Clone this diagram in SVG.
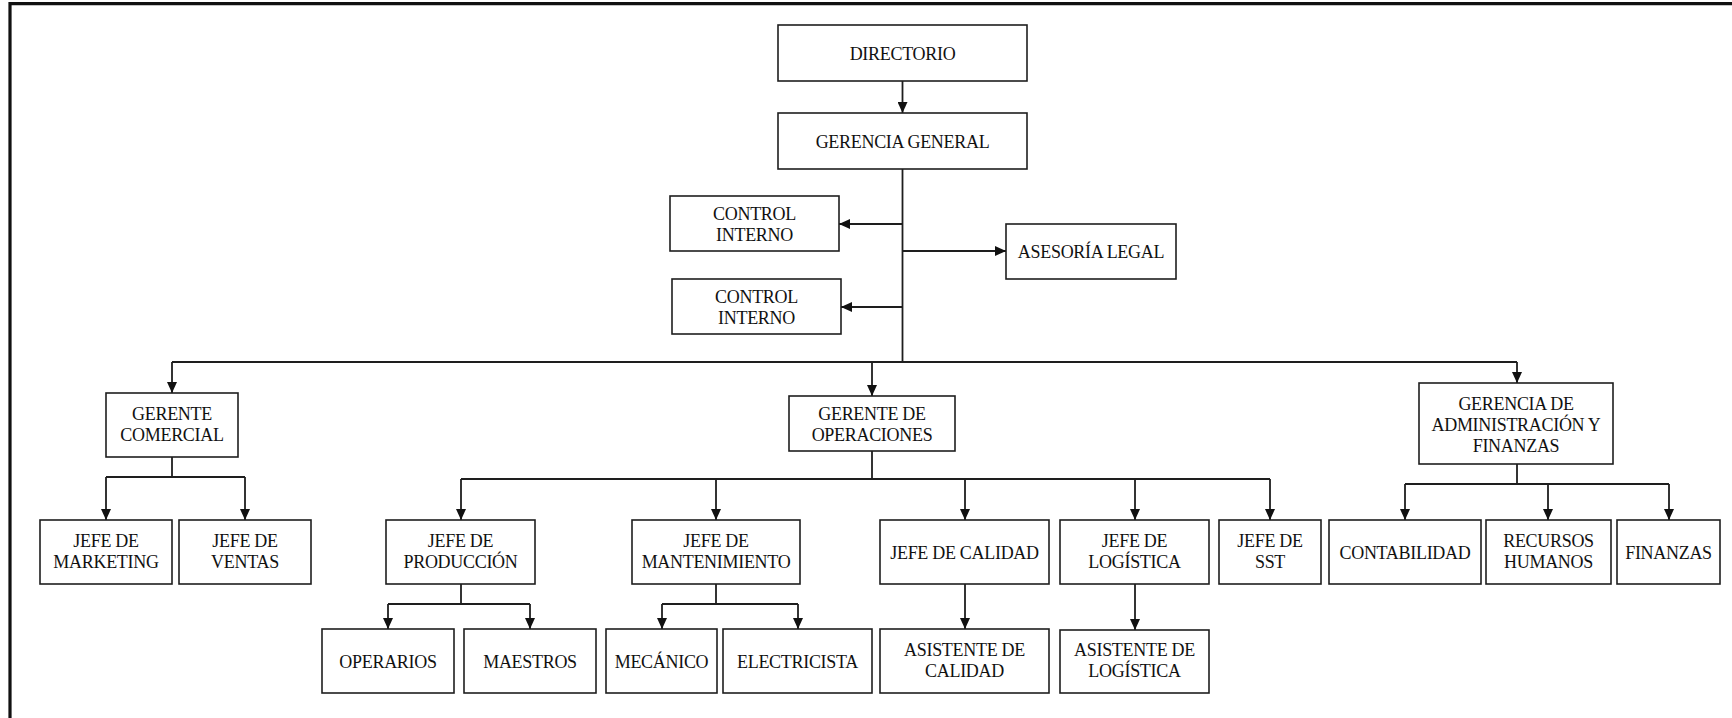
<svg xmlns="http://www.w3.org/2000/svg" width="1732" height="718" viewBox="0 0 1732 718">
  <style>
    .box rect { fill: #ffffff; stroke: #1e1e1e; stroke-width: 1.6; }
    .box text { font-family: "Liberation Serif", "Times New Roman", serif; font-size: 18px; letter-spacing: -0.3px; fill: #111111; text-anchor: middle; }
    .conn path { fill: none; stroke: #1e1e1e; stroke-width: 1.8; }
    .conn path.arrow { marker-end: url(#arrowhead); }
    .frame { fill: none; stroke: #111111; stroke-width: 3.2; }
  </style>
  <defs>
    <marker id="arrowhead" viewBox="0 0 11 10" refX="11" refY="5" markerWidth="11" markerHeight="10" markerUnits="userSpaceOnUse" orient="auto">
      <path d="M0,0 L11,5 L0,10 z" fill="#111111"/>
    </marker>
  </defs>

  <rect width="1732" height="718" fill="#ffffff"/>
  <!-- page frame (left and top edges) -->
  <path class="frame" d="M10,718 V3.6 H1732"/>

  <!-- connectors -->
  <g id="connectors" class="conn">
    <path class="arrow" d="M902.5,81 V113"/>
    <path d="M902.5,169 V362"/>
    <path class="arrow" d="M902.5,224 H839"/>
    <path class="arrow" d="M902.5,251 H1006"/>
    <path class="arrow" d="M902.5,307 H841"/>
    <path d="M172,362 H1517"/>
    <path class="arrow" d="M172,362 V393"/>
    <path class="arrow" d="M872,362 V396"/>
    <path class="arrow" d="M1517,362 V383"/>
    <!-- comercial -->
    <path d="M172,457 V477"/>
    <path d="M106,477 H245"/>
    <path class="arrow" d="M106,477 V520"/>
    <path class="arrow" d="M245,477 V520"/>
    <!-- operaciones -->
    <path d="M872,451 V479"/>
    <path d="M461,479 H1270"/>
    <path class="arrow" d="M461,479 V520"/>
    <path class="arrow" d="M716,479 V520"/>
    <path class="arrow" d="M965,479 V520"/>
    <path class="arrow" d="M1135,479 V520"/>
    <path class="arrow" d="M1270,479 V520"/>
    <!-- produccion -->
    <path d="M461,584 V604"/>
    <path d="M388,604 H530"/>
    <path class="arrow" d="M388,604 V629"/>
    <path class="arrow" d="M530,604 V629"/>
    <!-- mantenimiento -->
    <path d="M716,584 V604"/>
    <path d="M662,604 H798"/>
    <path class="arrow" d="M662,604 V629"/>
    <path class="arrow" d="M798,604 V629"/>
    <!-- calidad / logistica -->
    <path class="arrow" d="M965,584 V629"/>
    <path class="arrow" d="M1135,584 V630"/>
    <!-- administracion y finanzas -->
    <path d="M1517,464 V484"/>
    <path d="M1405,484 H1669"/>
    <path class="arrow" d="M1405,484 V520"/>
    <path class="arrow" d="M1548,484 V520"/>
    <path class="arrow" d="M1669,484 V520"/>
  </g>

  <!-- nodes -->
  <g id="directorio" class="box">
    <rect x="778" y="25" width="249" height="56"/>
    <text x="902.5" y="59.5">DIRECTORIO</text>
  </g>
  <g id="gerencia-general" class="box">
    <rect x="778" y="113" width="249" height="56"/>
    <text x="902.5" y="147.5">GERENCIA GENERAL</text>
  </g>
  <g id="control-interno-1" class="box">
    <rect x="670" y="196" width="169" height="55"/>
    <text x="754.5" y="219.5">CONTROL</text>
    <text x="754.5" y="240.5">INTERNO</text>
  </g>
  <g id="asesoria-legal" class="box">
    <rect x="1006" y="224" width="170" height="55"/>
    <text x="1091" y="258">ASESORÍA LEGAL</text>
  </g>
  <g id="control-interno-2" class="box">
    <rect x="672" y="279" width="169" height="55"/>
    <text x="756.5" y="302.5">CONTROL</text>
    <text x="756.5" y="323.5">INTERNO</text>
  </g>

  <g id="gerente-comercial" class="box">
    <rect x="106" y="393" width="132" height="64"/>
    <text x="172" y="419.5">GERENTE</text>
    <text x="172" y="440.5">COMERCIAL</text>
  </g>
  <g id="jefe-marketing" class="box">
    <rect x="40" y="520" width="132" height="64"/>
    <text x="106" y="546.5">JEFE DE</text>
    <text x="106" y="567.5">MARKETING</text>
  </g>
  <g id="jefe-ventas" class="box">
    <rect x="179" y="520" width="132" height="64"/>
    <text x="245" y="546.5">JEFE DE</text>
    <text x="245" y="567.5">VENTAS</text>
  </g>

  <g id="gerente-operaciones" class="box">
    <rect x="789" y="396" width="166" height="55"/>
    <text x="872" y="419.5">GERENTE DE</text>
    <text x="872" y="440.5">OPERACIONES</text>
  </g>
  <g id="jefe-produccion" class="box">
    <rect x="386" y="520" width="149" height="64"/>
    <text x="460.5" y="546.5">JEFE DE</text>
    <text x="460.5" y="567.5">PRODUCCIÓN</text>
  </g>
  <g id="operarios" class="box">
    <rect x="322" y="629" width="132" height="64"/>
    <text x="388" y="667.5">OPERARIOS</text>
  </g>
  <g id="maestros" class="box">
    <rect x="464" y="629" width="132" height="64"/>
    <text x="530" y="667.5">MAESTROS</text>
  </g>
  <g id="jefe-mantenimiento" class="box">
    <rect x="632" y="520" width="168" height="64"/>
    <text x="716" y="546.5">JEFE DE</text>
    <text x="716" y="567.5">MANTENIMIENTO</text>
  </g>
  <g id="mecanico" class="box">
    <rect x="606" y="629" width="111" height="64"/>
    <text x="661.5" y="667.5">MECÁNICO</text>
  </g>
  <g id="electricista" class="box">
    <rect x="723" y="629" width="149" height="64"/>
    <text x="797.5" y="667.5">ELECTRICISTA</text>
  </g>
  <g id="jefe-calidad" class="box">
    <rect x="880" y="520" width="169" height="64"/>
    <text x="964.5" y="558.5">JEFE DE CALIDAD</text>
  </g>
  <g id="asistente-calidad" class="box">
    <rect x="880" y="629" width="169" height="64"/>
    <text x="964.5" y="655.5">ASISTENTE DE</text>
    <text x="964.5" y="676.5">CALIDAD</text>
  </g>
  <g id="jefe-logistica" class="box">
    <rect x="1060" y="520" width="149" height="64"/>
    <text x="1134.5" y="546.5">JEFE DE</text>
    <text x="1134.5" y="567.5">LOGÍSTICA</text>
  </g>
  <g id="asistente-logistica" class="box">
    <rect x="1060" y="630" width="149" height="63"/>
    <text x="1134.5" y="656">ASISTENTE DE</text>
    <text x="1134.5" y="677">LOGÍSTICA</text>
  </g>
  <g id="jefe-sst" class="box">
    <rect x="1219" y="520" width="102" height="64"/>
    <text x="1270" y="546.5">JEFE DE</text>
    <text x="1270" y="567.5">SST</text>
  </g>

  <g id="gerencia-administracion-finanzas" class="box">
    <rect x="1419" y="383" width="194" height="81"/>
    <text x="1516" y="409.5">GERENCIA DE</text>
    <text x="1516" y="430.5">ADMINISTRACIÓN Y</text>
    <text x="1516" y="451.5">FINANZAS</text>
  </g>
  <g id="contabilidad" class="box">
    <rect x="1329" y="520" width="152" height="64"/>
    <text x="1405" y="558.5">CONTABILIDAD</text>
  </g>
  <g id="recursos-humanos" class="box">
    <rect x="1486" y="520" width="125" height="64"/>
    <text x="1548.5" y="546.5">RECURSOS</text>
    <text x="1548.5" y="567.5">HUMANOS</text>
  </g>
  <g id="finanzas" class="box">
    <rect x="1617" y="520" width="103" height="64"/>
    <text x="1668.5" y="558.5">FINANZAS</text>
  </g>
</svg>
